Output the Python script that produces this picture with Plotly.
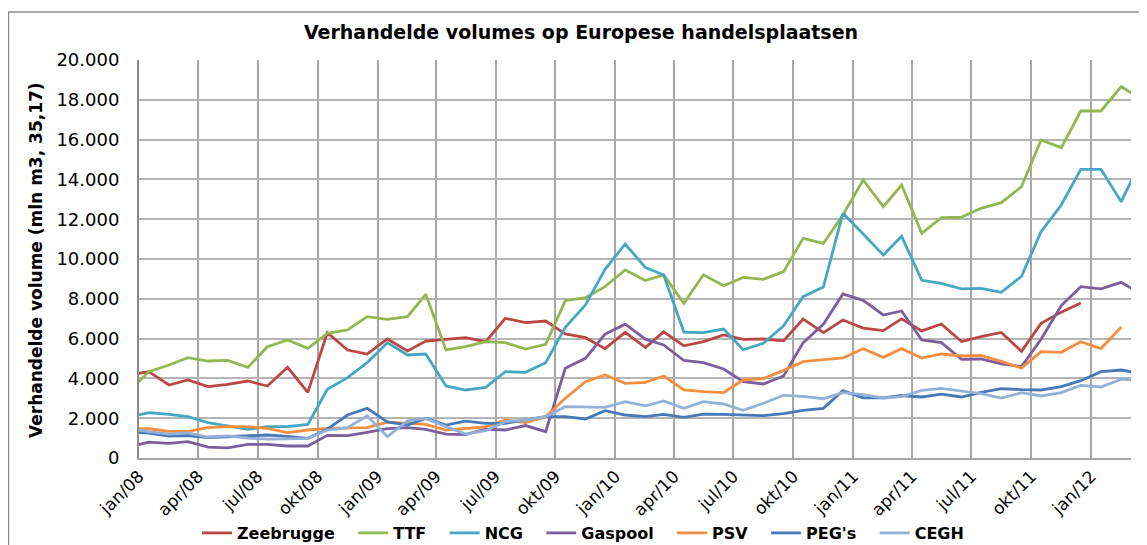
import pandas as pd
import plotly.graph_objects as go

# Monthly observations, dec/07 .. mar/12 (plotted at mid-month)
months = pd.date_range("2007-12-01", periods=52, freq="MS") + pd.Timedelta(days=15)

zeebrugge = [4170, 4338, 3668, 3920, 3584, 3701, 3869, 3618, 4556, 3299, 6298, 5427, 5226, 5980, 5377, 5879,
             5963, 6047, 5846, 7018, 6800, 6884, 6231, 6047, 5494, 6315, 5550, 6340, 5635, 5846, 6181, 5963,
             5980, 5890, 6985, 6300, 6935, 6530, 6399, 6990, 6390, 6734, 5850, 6100, 6310, 5360, 6767, 7330,
             7790, None, None, None]
ttf = [3330, 4338, 4673, 5042, 4874, 4908, 4556, 5594, 5930, 5511, 6265, 6432, 7102, 6968, 7102, 8224,
       5427, 5594, 5846, 5796, 5477, 5711, 7906, 8057, 8610, 9447, 8920, 9196, 7772, 9210, 8660, 9078,
       8978, 9363, 11038, 10787, 12211, 13970, 12629, 13718, 11290, 12076, 12109, 12546, 12830, 13635,
       15980, 15595, 17437, 17437, 18660, 18090]
ncg = [2044, 2278, 2194, 2077, 1776, 1608, 1440, 1575, 1575, 1692, 3450, 4037, 4791, 5796, 5176, 5226,
       3620, 3417, 3551, 4338, 4305, 4791, 6565, 7688, 9480, 10754, 9570, 9196, 6330, 6298, 6482, 5440,
       5762, 6640, 8107, 8590, 12294, 11256, 10201, 11140, 8930, 8780, 8500, 8526, 8325, 9130, 11373,
       12713, 14505, 14505, 12881, 14840]
gaspool = [553, 800, 737, 821, 550, 510, 687, 687, 603, 603, 1140, 1122, 1290, 1480, 1524, 1440, 1195,
           1180, 1450, 1407, 1630, 1323, 4506, 5008, 6220, 6725, 5970, 5678, 4900, 4791, 4472, 3836, 3719,
           4121, 5796, 6720, 8241, 7920, 7186, 7387, 5930, 5796, 4958, 4975, 4730, 4590, 5970, 7660, 8610,
           8500, 8827, 8275]
psv = [1491, 1470, 1340, 1340, 1524, 1575, 1575, 1491, 1280, 1407, 1491, 1524, 1524, 1800, 1742, 1692,
       1407, 1491, 1560, 1910, 1776, 2077, 2998, 3836, 4171, 3752, 3800, 4121, 3417, 3333, 3290, 3920,
       3995, 4405, 4841, 4940, 5025, 5494, 5058, 5494, 5025, 5226, 5126, 5150, 4858, 4520, 5343, 5310,
       5846, 5500, 6580, None]
pegs = [1306, 1255, 1106, 1130, 1030, 1072, 1106, 1156, 1090, 988, 1450, 2161, 2496, 1810, 1658, 1993,
        1658, 1850, 1742, 1742, 1910, 2077, 2077, 1960, 2379, 2161, 2077, 2194, 2043, 2200, 2194, 2161,
        2127, 2230, 2395, 2496, 3384, 3020, 3020, 3140, 3065, 3207, 3065, 3299, 3484, 3434, 3417, 3584,
        3886, 4338, 4422, 4254]
cegh = [1500, 1320, 1200, 1257, 1055, 1114, 1005, 946, 960, 988, 1407, 1524, 2120, 1072, 1870, 1993,
        1575, 1206, 1374, 1826, 1910, 2077, 2580, 2580, 2546, 2831, 2620, 2864, 2496, 2831, 2714, 2400,
        2750, 3150, 3100, 2980, 3283, 3190, 3015, 3082, 3400, 3501, 3375, 3232, 3015, 3283, 3116, 3283,
        3650, 3567, 3960, 3890]

series_names = ["Zeebrugge", "TTF", "NCG", "Gaspool", "PSV", "PEG's", "CEGH"]
series_values = [zeebrugge, ttf, ncg, gaspool, psv, pegs, cegh]
series_colors = ["#BA4744", "#93B651", "#45A8C2", "#7B5E9E", "#F38F40", "#4679B8", "#93B0D8"]

tick_dates = ["2008-01-01", "2008-04-01", "2008-07-01", "2008-10-01", "2009-01-01", "2009-04-01",
              "2009-07-01", "2009-10-01", "2010-01-01", "2010-04-01", "2010-07-01", "2010-10-01",
              "2011-01-01", "2011-04-01", "2011-07-01", "2011-10-01", "2012-01-01"]
tick_labels = ["jan/08", "apr/08", "jul/08", "okt/08", "jan/09", "apr/09", "jul/09", "okt/09",
               "jan/10", "apr/10", "jul/10", "okt/10", "jan/11", "apr/11", "jul/11", "okt/11", "jan/12"]

title_text = "Verhandelde volumes op Europese handelsplaatsen"
y_title = "Verhandelde volume (mln m3, 35,17)"

GAP = "\u00a0\u00a0\u2009"
fig = go.Figure()
for k, (name, vals, col) in enumerate(zip(series_names, series_values, series_colors)):
    pad = GAP if k < len(series_names) - 1 else ""
    fig.add_trace(go.Scatter(x=months, y=vals, name="<b>" + name + "</b>" + pad, mode="lines",
                             line=dict(color=col, width=2.8), connectgaps=False))

# the page is drawn with an 8px body offset, so figure coords = screen coords - 8
OFF = 8
W, H = 1147, 545
PL, PR, PT, PB = 139 - OFF, 1131 - OFF, 60 - OFF, 458 - OFF
PW, PH = PR - PL, PB - PT

def px_x(x):
    return (x - OFF - PL) / PW

def px_y(y):
    return (PB - (y - OFF)) / PH

fig.update_layout(
    width=W, height=H,
    margin=dict(l=PL, r=W - PR, t=PT, b=H - PB, autoexpand=False),
    paper_bgcolor="white", plot_bgcolor="white",
    separators=",.",
    font=dict(family="DejaVu Sans", color="black", size=15),
    title=dict(text="<b>" + title_text + "</b>", x=(581 - OFF) / W, xanchor="center",
               y=1 - (32 - OFF) / H, yanchor="middle",
               font=dict(family="DejaVu Sans", size=19, color="black")),
    showlegend=True,
    legend=dict(orientation="h", x=px_x(583), xanchor="center", y=px_y(533), yanchor="middle",
                font=dict(family="DejaVu Sans", size=16, color="black"),
                itemwidth=30, bgcolor="rgba(0,0,0,0)"),
    xaxis=dict(type="date", range=["2008-01-01", "2012-03-02"],
               tickmode="array", tickvals=tick_dates, ticktext=tick_labels,
               tickangle=-45, tickfont=dict(size=17, family="DejaVu Sans"),
               showgrid=True, gridcolor="#A6A6A6", gridwidth=1.5,
               showline=True, linecolor="#A6A6A6", linewidth=1.5,
               ticks="", zeroline=False),
    yaxis=dict(range=[0, 20000], dtick=2000, tickformat=",d",
               tickfont=dict(size=18, family="DejaVu Sans"),
               ticklabelstandoff=14,
               showgrid=True, gridcolor="#B4B4B4", gridwidth=1.5,
               showline=True, linecolor="#8C8C8C", linewidth=2,
               ticks="", zeroline=False),
)

# y-axis title as a rotated annotation
fig.add_annotation(text="<b>" + y_title + "</b>", xref="paper", yref="paper",
                   x=px_x(36), y=px_y(260), xanchor="center", yanchor="middle",
                   textangle=-90, showarrow=False,
                   font=dict(family="DejaVu Sans", size=17, color="black"))

# chart frame (left and top edges of the chart border)
fig.add_shape(type="rect", xref="paper", yref="paper",
              x0=px_x(8.5), x1=px_x(1170), y0=-0.4, y1=px_y(12),
              line=dict(color="#8C8C8C", width=1.5), fillcolor="rgba(0,0,0,0)", layer="below")

fig.write_html("out.html")
